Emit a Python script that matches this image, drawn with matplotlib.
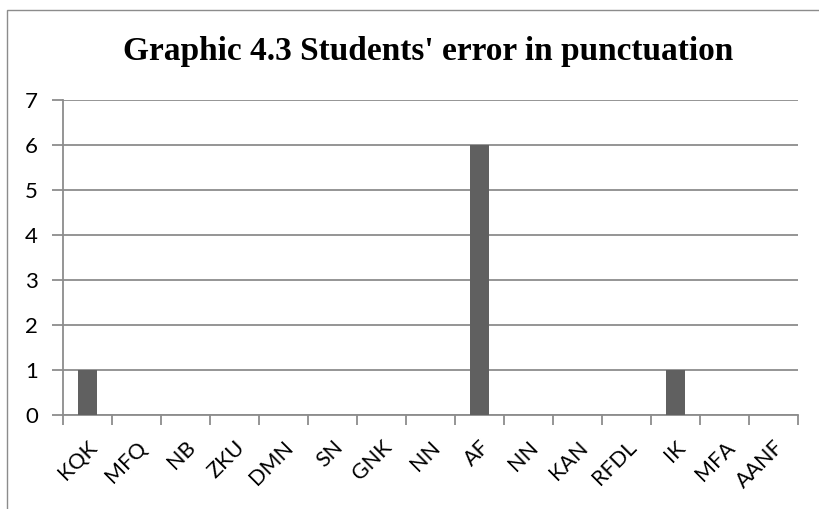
import matplotlib.pyplot as plt
from matplotlib.patches import Rectangle
import numpy as np

students = ['KQK', 'MFQ', 'NB', 'ZKU', 'DMN', 'SN', 'GNK', 'NN', 'AF',
            'NN', 'KAN', 'RFDL', 'IK', 'MFA', 'AANF']
errors = [1, 0, 0, 0, 0, 0, 0, 0, 6, 0, 0, 0, 1, 0, 0]

grid_c = '#8c8c8c'

fig = plt.figure(figsize=(8.19, 5.09), dpi=100)
ax = fig.add_axes([0.0769, 0.1847, 0.8975, 0.6188])

# outer chart frame (only left/top visible in the crop)
fig.patches.append(Rectangle((0.009, -0.1), 1.2, 1.08, transform=fig.transFigure,
                             fill=False, edgecolor='#8c8c8c', lw=1.0))

x = np.arange(len(students))
ax.bar(x, errors, width=0.39, color='#606060', zorder=3)

ax.set_xlim(-0.5, len(students) - 0.5)
ax.set_ylim(0, 7)
ax.set_yticks(range(0, 8))
ax.yaxis.grid(True, color=grid_c, lw=1.3, zorder=0)

ax.set_xticks(x)
ax.set_xticklabels(students, rotation=45, ha='right', va='top',
                   rotation_mode='anchor', fontsize=15.5, family='Lato')
ax.set_xticks(np.arange(-0.5, len(students)), minor=True)
ax.tick_params(axis='x', which='major', length=0, pad=16)
ax.tick_params(axis='x', which='minor', length=7, color=grid_c, width=1.3)
ax.tick_params(axis='y', length=8, color=grid_c, width=1.3, labelsize=16, pad=10)
for lab in ax.get_yticklabels():
    lab.set_family('Lato')

for s in ['top', 'right']:
    ax.spines[s].set_visible(False)
for s in ['left', 'bottom']:
    ax.spines[s].set_color(grid_c)
    ax.spines[s].set_linewidth(1.3)

fig.text(0.523, 0.898, "Graphic 4.3 Students' error in punctuation",
         ha='center', va='center', fontsize=24, fontweight='bold',
         family='Liberation Serif')

fig.savefig('out.png', dpi=100)
